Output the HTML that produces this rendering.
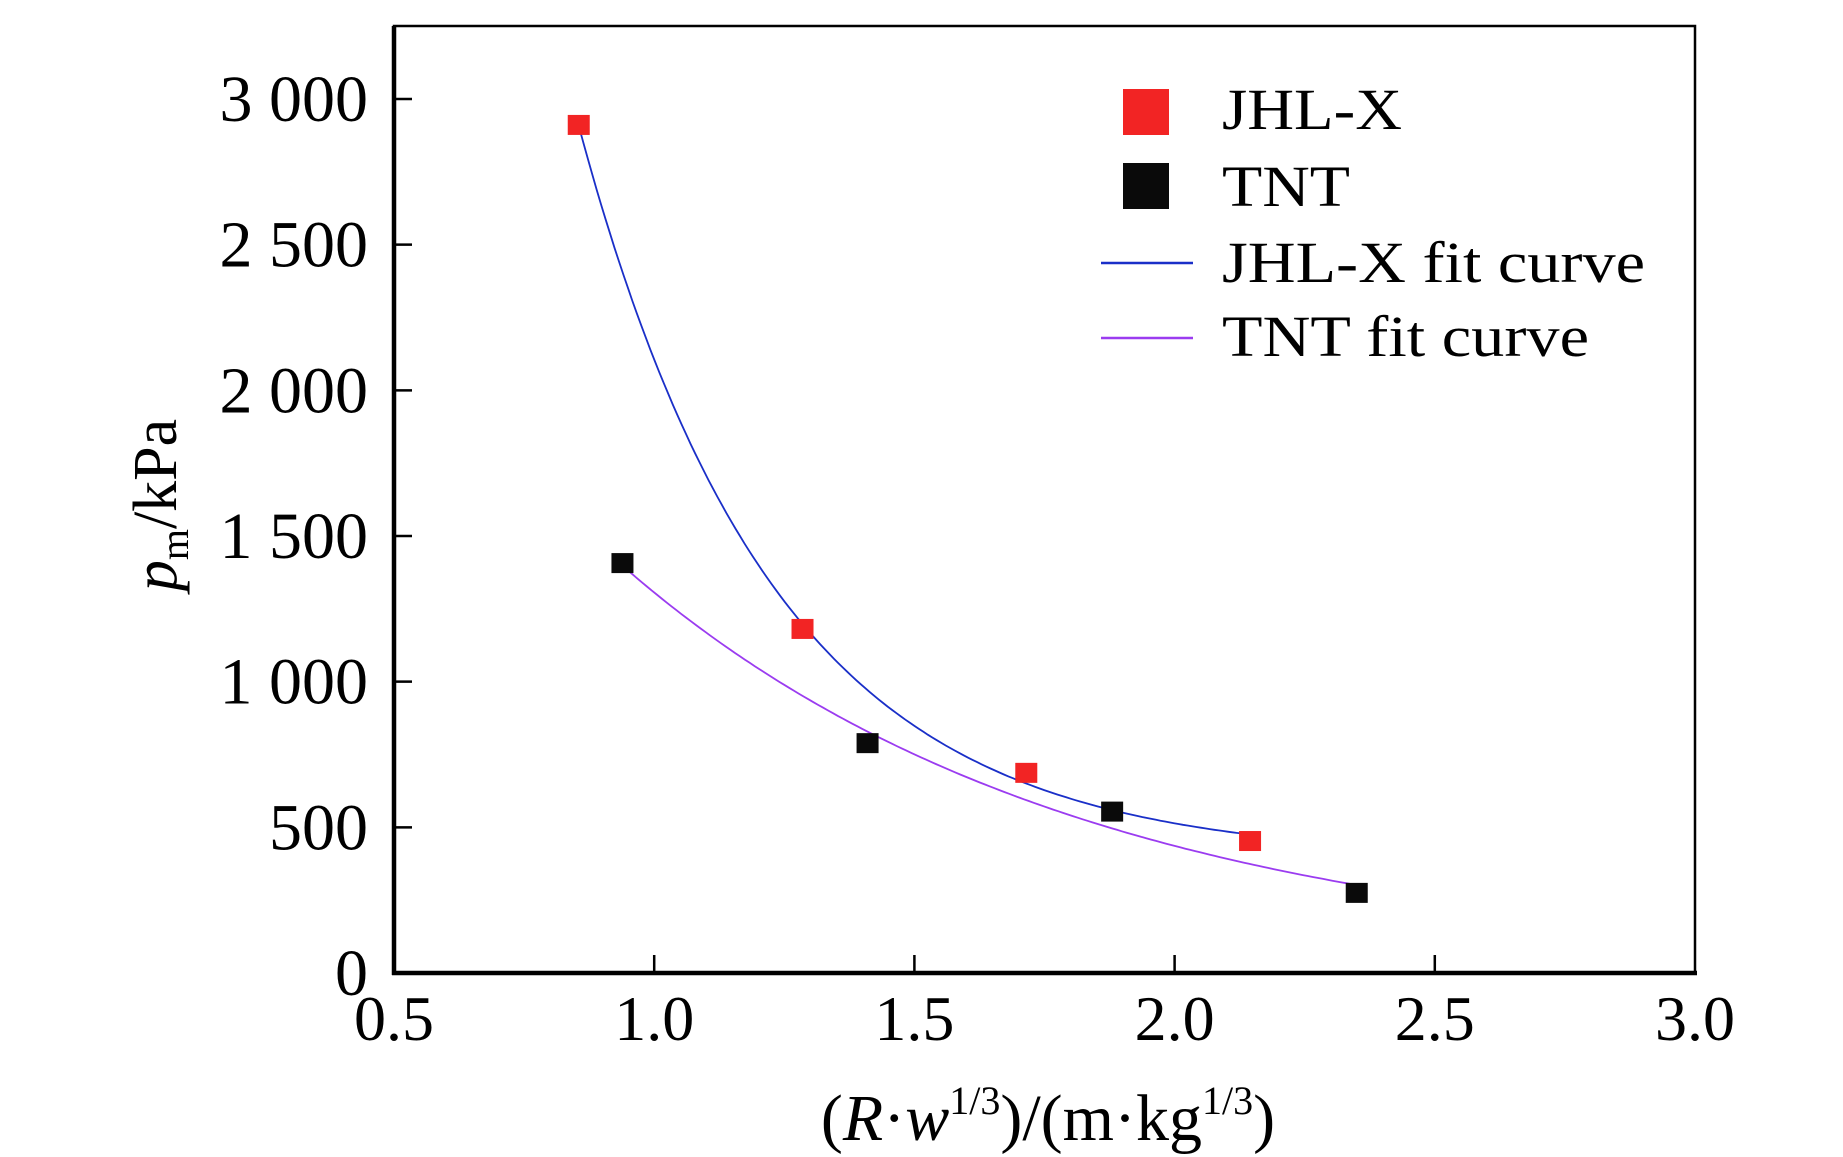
<!DOCTYPE html>
<html><head><meta charset="utf-8"><style>
html,body{margin:0;padding:0;background:#fff;}
svg{display:block;font-family:"Liberation Serif","Times New Roman",serif;}
</style></head><body>
<svg id="chart" width="1843" height="1157" viewBox="0 0 1843 1157">
<g id="plot"></g>
</svg>
<script>
const xTicks=[0.5,1.0,1.5,2.0,2.5,3.0];
const xTickLabels=["0.5","1.0","1.5","2.0","2.5","3.0"];
const yTicks=[0,500,1000,1500,2000,2500,3000];
const yTickLabels=["0","500","1 000","1 500","2 000","2 500","3 000"];
const jhlX=[0.855,1.285,1.715,2.145];
const jhlY=[2911,1181,687,453];
const tntX=[0.939,1.41,1.88,2.35];
const tntY=[1407,789,554,275];

const L=394,R=1695,T=26,B=973;
const X0=0.5,X1=3.0,Y0=0,Y1=3000,YT=99;
function sx(v){return L+(v-X0)/(X1-X0)*(R-L);}
function sy(v){return B-(v-Y0)/(Y1-Y0)*(B-YT);}
const NS="http://www.w3.org/2000/svg";
const g=document.getElementById('plot');
function mk(tag,attrs,parent){const e=document.createElementNS(NS,tag);for(const k in attrs)e.setAttribute(k,attrs[k]);(parent||g).appendChild(e);return e;}

let fr=mk('rect',{x:L,y:T,width:R-L,height:B-T,fill:'none',stroke:'#000','stroke-width':2.5});


let la=mk('line',{x1:L,y1:T,x2:L,y2:B+2,stroke:'#000','stroke-width':4.5});


let ba=mk('line',{x1:L-2,y1:B,x2:R+2,y2:B,stroke:'#000','stroke-width':4.5});



xTicks.forEach((v,i)=>{
  const x=sx(v);
  if(i>0&&i<xTicks.length-1){
    let t=mk('line',{x1:x,y1:B,x2:x,y2:B-18,stroke:'#000','stroke-width':2.5});
    
    
  }
  let tx=mk('text',{x:x,y:1040,'text-anchor':'middle','font-size':64,fill:'#000'});
  tx.textContent=xTickLabels[i];
  
  
});
yTicks.forEach((v,i)=>{
  const y=sy(v);
  if(i>0){
    let t=mk('line',{x1:L,y1:y,x2:L+18,y2:y,stroke:'#000','stroke-width':2.5});
    
    
  }
  let tx=mk('text',{x:368,y:y+22,'text-anchor':'end','font-size':66,fill:'#000'});
  tx.textContent=yTickLabels[i];
  
  
});

// exponential decay fit y = c + A*exp(-k x), least squares
function fit(xs,ys){
  let best=null;
  for(let k=0.2;k<=12;k+=0.01){
    const n=xs.length;let se=0,sy_=0,see=0,sey=0;
    const e=xs.map(x=>Math.exp(-k*x));
    for(let i=0;i<n;i++){se+=e[i];sy_+=ys[i];see+=e[i]*e[i];sey+=e[i]*ys[i];}
    const A=(n*sey-se*sy_)/(n*see-se*se);const c=(sy_-A*se)/n;
    let err=0;for(let i=0;i<n;i++){const r=ys[i]-(c+A*e[i]);err+=r*r;}
    if(!best||err<best.err)best={err,A,c,k};
  }
  return best;
}
function curve(xs,ys,color,name){
  const f=fit(xs,ys);const x0=Math.min(...xs),x1=Math.max(...xs);
  let d='';for(let j=0;j<=150;j++){const v=x0+(x1-x0)*j/150;d+=(j?'L':'M')+sx(v).toFixed(1)+','+sy(f.c+f.A*Math.exp(-f.k*v)).toFixed(1);}
  let p=mk('path',{d:d,fill:'none',stroke:color,'stroke-width':1.8});
  
  
}
curve(jhlX,jhlY,'#1a2fc8','jhl-x-fit-curve');
curve(tntX,tntY,'#9b3cf0','tnt-fit-curve');

function pts(xs,ys,color,name){
  xs.forEach((v,i)=>{
    let r=mk('rect',{x:sx(v)-11,y:sy(ys[i])-10,width:22,height:20,fill:color});
    
    
  });
}
pts(jhlX,jhlY,'#f22424','jhl-x-point');
pts(tntX,tntY,'#0a0a0a','tnt-point');

const lg=mk('g',{});


let m1=mk('rect',{x:1123,y:89,width:46,height:46,fill:'#f22424'},lg);


let m2=mk('rect',{x:1123,y:163,width:46,height:46,fill:'#0a0a0a'},lg);


let l1=mk('line',{x1:1101,y1:263,x2:1193,y2:263,stroke:'#1a2fc8','stroke-width':2.5},lg);


let l2=mk('line',{x1:1101,y1:338,x2:1193,y2:338,stroke:'#9b3cf0','stroke-width':2.5},lg);


const legTexts=[["JHL-X",129,180],["TNT",206,128],["JHL-X fit curve",282,423],["TNT fit curve",356,367]];
legTexts.forEach(t=>{
  let e=mk('text',{x:1222,y:t[1],'font-size':58,fill:'#000',textLength:t[2],lengthAdjust:'spacingAndGlyphs'},lg);
  e.textContent=t[0];
  
  
});

let yt=mk('text',{x:0,y:0,'font-size':62,fill:'#000',transform:'translate(176,505) rotate(-90)','text-anchor':'middle'});
yt.innerHTML='<tspan font-style="italic">p</tspan><tspan font-size="40" dy="12">m</tspan><tspan dy="-12">/kPa</tspan>';


let xt=mk('text',{x:1048,y:1140,'font-size':66,fill:'#000','text-anchor':'middle'});
xt.innerHTML='(<tspan font-style="italic">R</tspan>·<tspan font-style="italic">w</tspan><tspan font-size="40" dy="-26">1/3</tspan><tspan dy="26">)/(m·kg</tspan><tspan font-size="40" dy="-26">1/3</tspan><tspan dy="26">)</tspan>';


</script>
</body></html>
